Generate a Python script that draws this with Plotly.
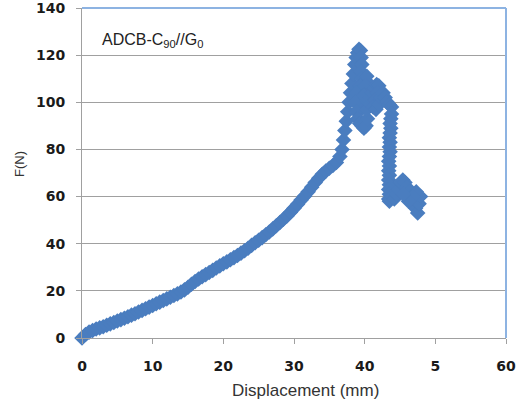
import plotly.graph_objects as go

# Displacement (mm) and force (N)
disp = [0, 0.5, 1, 1.5, 2, 2.5, 3, 3.5, 4, 4.5, 5, 5.5, 6, 6.5, 7, 7.5, 8, 8.5, 9, 9.5,
        10, 10.5, 11, 11.5, 12, 12.5, 13, 13.5, 14, 14.5, 15, 15.5, 16, 16.5, 17, 17.5,
        18, 18.5, 19, 19.5, 20, 20.5, 21, 21.5, 22, 22.5, 23, 23.5, 24, 24.5, 25, 25.5,
        26, 26.5, 27, 27.5, 28, 28.5, 29, 29.5, 30, 30.5, 31, 31.5, 32, 32.5, 33, 33.5,
        34, 34.5, 35, 35.5, 36, 36.5, 36.8, 37.0, 37.2, 37.4, 37.6, 37.8, 38.0, 38.2,
        38.4, 38.6, 38.8, 39.0, 39.2, 39.4, 39.5, 39.6, 39.5, 39.6, 39.4, 39.6, 39.3,
        39.5, 39.2, 39.0, 38.8, 38.6, 38.8, 39.0, 39.3, 39.6, 39.9, 40.2, 40.4, 40.3,
        40.2, 40.4, 40.6, 40.3, 40.1, 39.9, 40.8, 41.1, 41.4, 41.7, 42.0, 41.8, 41.5,
        41.2, 41.6, 42.0, 42.3, 42.6, 42.9, 43.2, 43.5, 43.8, 43.8, 43.7, 43.6, 43.7,
        43.6, 43.5, 43.6, 43.5, 43.6, 43.5, 43.4, 43.5, 43.4, 43.5, 43.4, 43.5, 43.4,
        43.5, 43.4, 43.5, 43.6, 43.9, 44.2, 44.5, 44.8, 45.1, 45.4, 45.7, 46.0, 46.3,
        46.6, 46.9, 47.2, 47.5, 47.7, 47.9, 47.3, 46.8, 46.2, 45.5, 45.0, 44.4]
force = [0, 1.5, 2.5, 3.2, 3.8, 4.3, 4.8, 5.4, 6.0, 6.6, 7.2, 7.8, 8.4, 9.0, 9.7, 10.3,
         11.0, 11.7, 12.4, 13.1, 13.8, 14.5, 15.2, 15.9, 16.6, 17.3, 18.0, 18.7, 19.5,
         20.4, 21.5, 22.8, 24.0, 25.0, 26.0, 26.9, 27.8, 28.7, 29.7, 30.6, 31.5, 32.3,
         33.2, 34.1, 35.0, 36.0, 37.0, 38.1, 39.3, 40.4, 41.5, 42.6, 43.8, 45.0, 46.3,
         47.6, 49.0, 50.4, 51.8, 53.4, 55.0, 56.7, 58.5, 60.2, 62.0, 64.0, 66.0, 67.8,
         69.5, 70.8, 72.0, 73.2, 74.5, 77.0, 80.0, 84.0, 88.0, 92.0, 96.0, 100.0, 104.0,
         108.0, 112.0, 116.0, 119.0, 121.0, 122.5, 122.0, 119.0, 116.0, 113.0, 110.0,
         107.0, 104.0, 101.0, 98.0, 96.0, 100.0, 104.0, 100.0, 96.0, 93.0, 91.0, 90.0,
         89.0, 90.0, 93.0, 97.0, 101.0, 105.0, 108.0, 111.0, 107.0, 103.0, 102.0, 104.0,
         106.0, 107.5, 107.0, 104.0, 101.0, 98.0, 97.0, 99.0, 102.0, 104.0, 102.0, 100.0,
         99.0, 98.0, 95.0, 93.0, 91.0, 89.0, 87.0, 85.0, 83.0, 81.0, 79.0, 77.0, 75.0,
         73.0, 71.0, 69.0, 67.0, 65.0, 63.0, 61.0, 59.0, 58.0, 59.0, 60.0, 59.0, 61.0,
         63.0, 66.0, 67.0, 66.0, 64.0, 62.0, 60.0, 58.0, 55.0, 53.0, 57.0, 60.0, 62.0,
         60.0, 58.0, 61.0]

x_tick_vals = [0, 10, 20, 30, 40, 50, 60]
x_tick_text = ["0", "10", "20", "30", "40", "5", "60"]
y_tick_vals = [0, 20, 40, 60, 80, 100, 120, 140]

blue = "#4A7DBF"
border_blue = "#8DB3E2"
grid = "#A0A0A0"
font_family = "Liberation Sans, Arial, sans-serif"
tick_font = dict(size=14, color="#1a1a1a", family="DejaVu Sans, sans-serif", weight="bold")

fig = go.Figure()
fig.add_trace(go.Scatter(
    x=disp, y=force, mode="markers", cliponaxis=False,
    marker=dict(symbol="diamond", size=12, color=blue, line=dict(width=0)),
    showlegend=False, hoverinfo="skip",
))

fig.update_layout(
    width=519, height=404,
    margin=dict(l=82, r=13, t=8, b=66),
    paper_bgcolor="white", plot_bgcolor="white",
    font=dict(family=font_family, color="#222222"),
    xaxis=dict(
        range=[0, 60], tickvals=x_tick_vals, ticktext=x_tick_text,
        showgrid=False, zeroline=False, automargin=False,
        showline=True, linecolor=grid, linewidth=1,
        ticks="outside", ticklen=5, tickcolor=grid,
        tickfont=tick_font, ticklabelstandoff=10, ticklabeloverflow="allow",
    ),
    yaxis=dict(
        range=[0, 140], tickvals=y_tick_vals,
        showgrid=True, gridcolor=grid, gridwidth=1, zeroline=False, automargin=False,
        showline=True, linecolor=grid, linewidth=1,
        ticks="outside", ticklen=5, tickcolor=grid,
        tickfont=tick_font, ticklabelstandoff=8, ticklabeloverflow="allow",
    ),
    shapes=[
        dict(type="line", xref="paper", yref="paper", x0=0, x1=1, y0=1, y1=1,
             line=dict(color=border_blue, width=2)),
        dict(type="line", xref="paper", yref="paper", x0=1, x1=1, y0=0, y1=1,
             line=dict(color=border_blue, width=2)),
    ],
    annotations=[
        dict(text="ADCB-C<sub>90</sub>//G<sub>0</sub>", xref="paper", yref="paper",
             x=0.042, y=0.903, xanchor="left", yanchor="middle", showarrow=False,
             font=dict(size=16, color="#222222", family=font_family)),
        dict(text="Displacement (mm)", xref="paper", yref="paper",
             x=0.526, y=-0.158, xanchor="center", yanchor="middle", showarrow=False,
             font=dict(size=17, color="#333333", family=font_family)),
        dict(text="F(N)", xref="paper", yref="paper", textangle=-90,
             x=-0.149, y=0.527, xanchor="center", yanchor="middle", showarrow=False,
             font=dict(size=13, color="#333333", family=font_family)),
    ],
)

fig.write_html("out.html", config={"displayModeBar": False},
               post_script="document.body.style.margin='0px';")
